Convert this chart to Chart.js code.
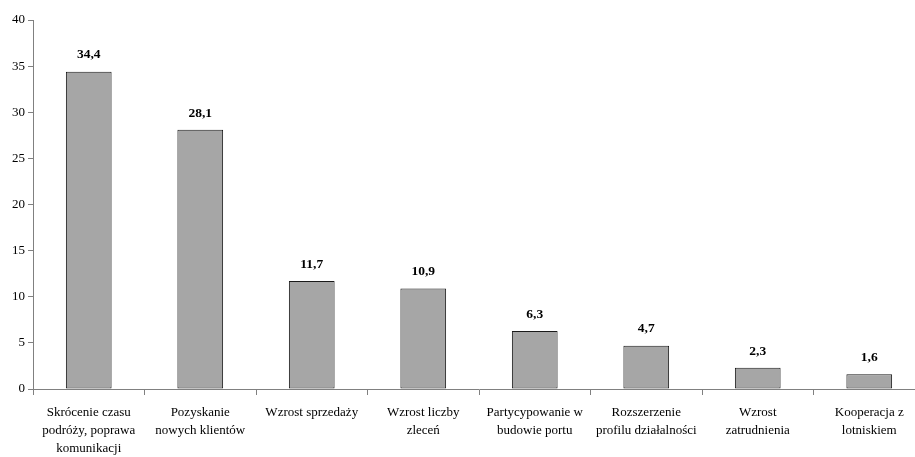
<!DOCTYPE html>
<html>
<head>
<meta charset="utf-8">
<script src="https://cdn.jsdelivr.net/npm/chart.js@4/dist/chart.umd.min.js"></script>
<style>
  html, body { margin: 0; padding: 0; background: #fff; overflow: hidden; }
  #wrap { width: 925px; height: 457px; position: relative; }
</style>
</head>
<body>
<div id="wrap"><canvas id="c"></canvas></div>
<script>
// Categories (multi-line labels) and percentages
const categories = [
  ['Skrócenie czasu', 'podróży, poprawa', 'komunikacji'],
  ['Pozyskanie', 'nowych klientów'],
  ['Wzrost sprzedaży'],
  ['Wzrost liczby', 'zleceń'],
  ['Partycypowanie w', 'budowie portu'],
  ['Rozszerzenie', 'profilu działalności'],
  ['Wzrost', 'zatrudnienia'],
  ['Kooperacja z', 'lotniskiem']
];
const values = [34.4, 28.1, 11.7, 10.9, 6.3, 4.7, 2.3, 1.6];
const yTicks = [0, 5, 10, 15, 20, 25, 30, 35, 40];

const fmt = v => v.toFixed(1).replace('.', ',');

// Bold value labels above each bar
const valueLabels = {
  id: 'valueLabels',
  afterDatasetsDraw(chart) {
    const ctx = chart.ctx;
    const meta = chart.getDatasetMeta(0);
    ctx.save();
    ctx.font = 'bold 13.5px "Liberation Serif", "Times New Roman", serif';
    ctx.fillStyle = '#000';
    ctx.textAlign = 'center';
    ctx.textBaseline = 'bottom';
    meta.data.forEach((bar, i) => {
      ctx.fillText(fmt(values[i]), bar.x, bar.y - 10);
    });
    ctx.restore();
  }
};

new Chart(document.getElementById('c'), {
  type: 'bar',
  data: {
    labels: categories,
    datasets: [{
      data: values,
      backgroundColor: '#a6a6a6',
      borderColor: '#1a1a1a',
      borderWidth: 1,
      borderSkipped: false,
      categoryPercentage: 1.0,
      barPercentage: 0.41
    }]
  },
  options: {
    responsive: true,
    maintainAspectRatio: false,
    animation: false,
    layout: { padding: { top: 20, right: 0, left: 0, bottom: 0 } },
    plugins: { legend: { display: false }, tooltip: { enabled: false } },
    scales: {
      x: {
        grid: { offset: true, drawOnChartArea: false, drawTicks: true, tickLength: 6, color: '#808080' },
        border: { display: true, color: '#808080', width: 1 },
        ticks: {
          color: '#000',
          padding: 9,
          maxRotation: 0,
          autoSkip: false,
          font: { family: '"Liberation Serif", "Times New Roman", serif', size: 13, lineHeight: 1.38 }
        },
        afterFit(scale) { scale.height = 68; }
      },
      y: {
        min: 0,
        max: 40,
        afterBuildTicks(scale) { scale.ticks = yTicks.map(v => ({ value: v })); },
        grid: { drawOnChartArea: false, drawTicks: true, tickLength: 5, color: '#808080' },
        border: { display: true, color: '#808080', width: 1 },
        ticks: {
          color: '#000',
          padding: 3,
          font: { family: '"Liberation Serif", "Times New Roman", serif', size: 13 }
        },
        afterFit(scale) { scale.width = 33; }
      }
    }
  },
  plugins: [valueLabels]
});
</script>
</body>
</html>
